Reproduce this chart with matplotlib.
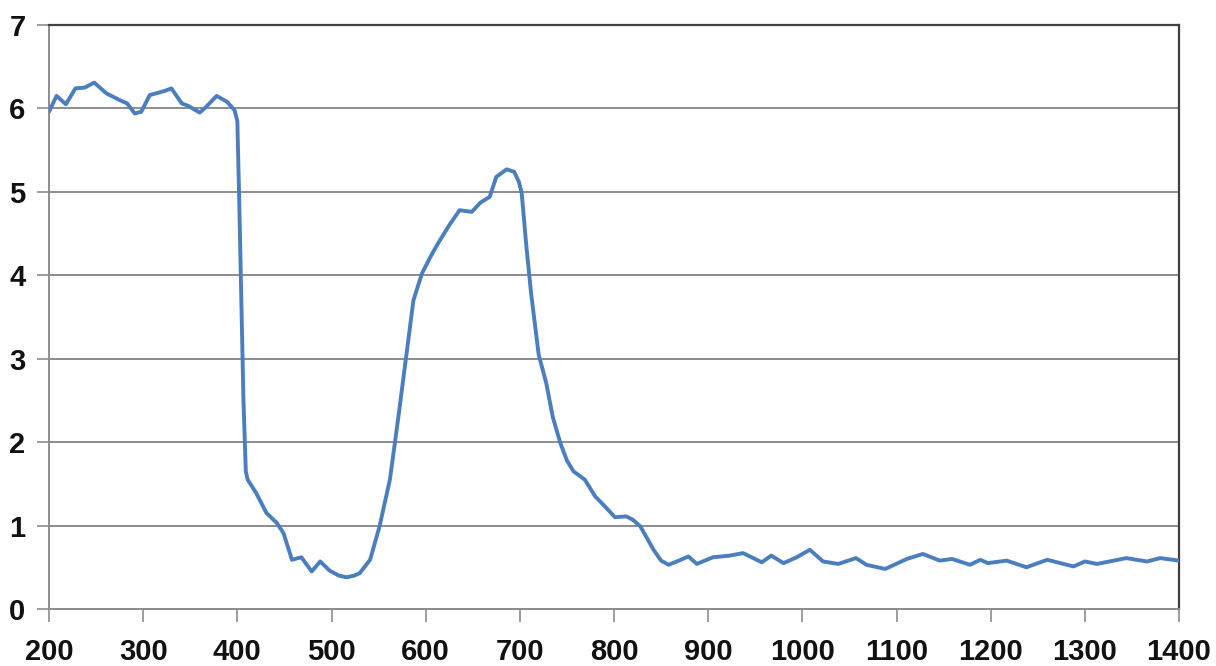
import matplotlib
matplotlib.use("Agg")
import matplotlib.pyplot as plt

wavelength = [200, 208, 218, 228, 238, 248, 261, 275, 283, 291, 298, 307, 323, 330, 341, 348,
              360, 367, 378, 389, 397, 400, 402, 406.5, 409, 411, 420, 431, 442, 449, 458, 468,
              479, 488, 498, 508, 516, 524, 530, 541, 551, 562, 571, 579, 587, 596, 605, 613,
              625, 636, 649, 658, 668, 675, 686, 694, 699, 702, 707, 712, 720, 728, 735, 743,
              750, 757, 769, 780, 792, 801, 813, 820, 828, 842, 850, 858, 869, 879, 888, 905,
              923, 937, 957, 967, 980, 994, 1008, 1022, 1038, 1057, 1068, 1088, 1111, 1128,
              1146, 1159, 1178, 1189, 1197, 1217, 1238, 1260, 1288, 1300, 1313, 1344, 1366,
              1380, 1400]
values = [5.96, 6.15, 6.05, 6.24, 6.25, 6.31, 6.18, 6.10, 6.06, 5.94, 5.96, 6.16, 6.21, 6.24,
          6.06, 6.03, 5.95, 6.02, 6.15, 6.08, 5.98, 5.85, 4.9, 2.5, 1.65, 1.55, 1.39, 1.15,
          1.03, 0.91, 0.59, 0.62, 0.45, 0.57, 0.46, 0.40, 0.38, 0.40, 0.43, 0.59, 0.99, 1.55,
          2.3, 3.0, 3.70, 4.02, 4.22, 4.38, 4.60, 4.78, 4.76, 4.87, 4.94, 5.18, 5.27, 5.24,
          5.12, 4.98, 4.34, 3.78, 3.05, 2.71, 2.30, 1.99, 1.78, 1.65, 1.55, 1.35, 1.21, 1.10,
          1.11, 1.07, 0.99, 0.71, 0.58, 0.53, 0.58, 0.63, 0.54, 0.62, 0.64, 0.67, 0.56, 0.64,
          0.55, 0.62, 0.71, 0.57, 0.54, 0.61, 0.53, 0.48, 0.60, 0.66, 0.58, 0.60, 0.53, 0.59,
          0.55, 0.58, 0.50, 0.59, 0.51, 0.57, 0.54, 0.61, 0.57, 0.61, 0.58]
x_ticks = [200, 300, 400, 500, 600, 700, 800, 900, 1000, 1100, 1200, 1300, 1400]
y_ticks = [0, 1, 2, 3, 4, 5, 6, 7]

fig = plt.figure(figsize=(12.16, 6.66), dpi=100)
ax = fig.add_axes([49 / 1216, 1 - 609 / 666, 1130 / 1216, 584 / 666])

ax.plot(wavelength, values, color="#4a7ebf", lw=2.8, solid_joinstyle="round",
        solid_capstyle="round", zorder=3)

ax.set_xlim(200, 1400)
ax.set_ylim(0, 7)
ax.set_xticks(x_ticks)
ax.set_yticks(y_ticks)
ax.set_xticklabels([str(t) for t in x_ticks])
ax.set_yticklabels([str(t) for t in y_ticks])

ax.grid(axis="y", color="#8c8c8c", lw=1.4)
ax.set_axisbelow(True)

for s in ["left", "bottom"]:
    ax.spines[s].set_color("#8c8c8c")
    ax.spines[s].set_linewidth(1.4)
for s in ["top", "right"]:
    ax.spines[s].set_color("#404040")
    ax.spines[s].set_linewidth(1.6)

ax.tick_params(axis="y", direction="out", length=9, width=1.2, color="#8c8c8c", pad=8)
ax.tick_params(axis="x", direction="out", length=9, width=1.2, color="#8c8c8c", pad=12)
for lab in ax.get_xticklabels() + ax.get_yticklabels():
    lab.set_fontfamily("Liberation Sans")
    lab.set_fontweight("bold")
    lab.set_fontsize(21)
    lab.set_color("#111111")

fig.savefig("out.png", dpi=100, facecolor="white")
